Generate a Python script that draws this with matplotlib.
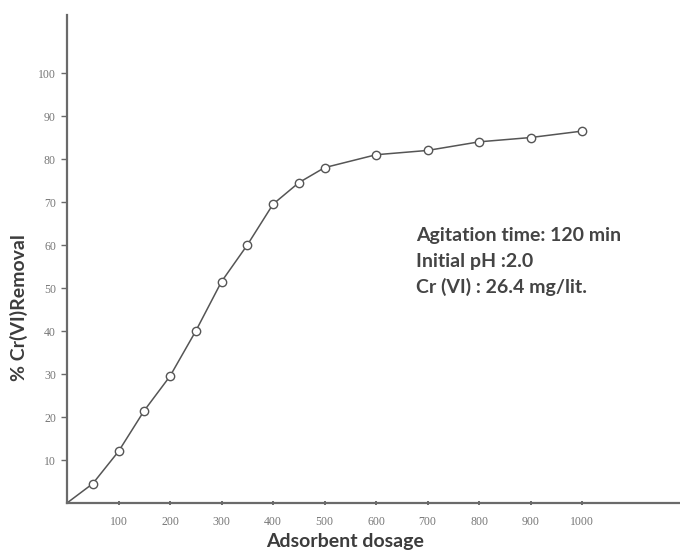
import matplotlib
matplotlib.use("Agg")
import matplotlib.pyplot as plt

# Adsorbent dosage vs. percentage Cr(VI) removal
dosage = [50, 100, 150, 200, 250, 300, 350, 400, 450, 500, 600, 700, 800, 900, 1000]
removal = [4.5, 12.0, 21.5, 29.5, 40.0, 51.5, 60.0, 69.5, 74.5, 78.0, 81.0, 82.0, 84.0, 85.0, 86.5]

x_ticks = [100, 200, 300, 400, 500, 600, 700, 800, 900, 1000]
y_ticks = [10, 20, 30, 40, 50, 60, 70, 80, 90, 100]

conditions = ["Agitation time: 120 min", "Initial pH :2.0", "Cr (VI) : 26.4 mg/lit."]

W, H = 680, 552
fig = plt.figure(figsize=(W / 100, H / 100), dpi=100)
left, right, bottom, top = 67, 680, 503, 15
ax = fig.add_axes([left / W, 1 - bottom / H, (right - left) / W, (bottom - top) / H])

line_col = "#555555"
# curve rises from the origin through the measured points
ax.plot([0] + dosage, [0] + removal, color=line_col, lw=1.1, zorder=2)
ax.plot(dosage, removal, linestyle="none", marker="o", ms=6,
        mfc="white", mec=line_col, mew=1.0, zorder=3)

ax.set_xlim(0, 1190)
ax.set_ylim(0, 113.5)

for s in ("top", "right"):
    ax.spines[s].set_visible(False)
for s in ("left", "bottom"):
    ax.spines[s].set_color("#6a6a6a")
    ax.spines[s].set_linewidth(1.6)

ax.set_xticks(x_ticks)
ax.set_yticks(y_ticks)
ax.set_xticklabels([str(v) for v in x_ticks], family="Liberation Serif", fontsize=8.5)
ax.set_yticklabels([str(v) for v in y_ticks], family="Liberation Serif", fontsize=8.5)
ax.tick_params(axis="y", direction="out", length=4, width=1.0, colors="#6a6a6a", pad=4)
ax.tick_params(axis="x", direction="inout", length=3, width=1.4, colors="#6a6a6a", pad=8)
for lab in ax.get_xticklabels() + ax.get_yticklabels():
    lab.set_color("#777777")

fig.text(19 / W, 1 - 308 / H, "% Cr(VI)Removal", rotation=90, ha="center", va="center",
         family="Lato", fontweight="bold", fontsize=14, color="#3c3c3c")
fig.text(345.5 / W, 1 - 541.5 / H, "Adsorbent dosage", ha="center", va="center",
         family="Lato", fontweight="bold", fontsize=14, color="#3c3c3c")

for i, line in enumerate(conditions):
    fig.text(416 / W, 1 - (236 + 25.5 * i) / H, line, ha="left", va="center",
             family="Lato", fontweight="bold", fontsize=14, color="#444444")

fig.savefig("out.png", dpi=100, facecolor="white")
